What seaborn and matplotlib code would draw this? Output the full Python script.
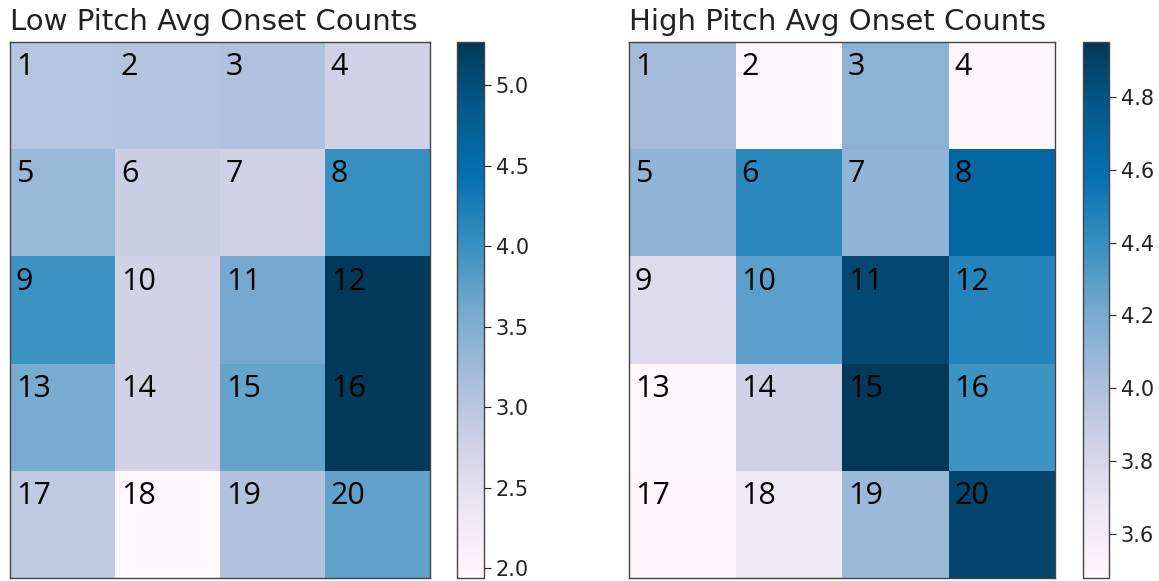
import numpy as np
import pandas as pd
import seaborn as sns
import matplotlib.pyplot as plt

# Average onset counts per cell (5 rows x 4 columns, cells numbered 1..20)
low_pitch = [
    [3.04, 3.05, 3.10, 2.78],
    [3.30, 2.84, 2.78, 4.02],
    [3.97, 2.77, 3.60, 5.25],
    [3.57, 2.77, 3.70, 5.27],
    [2.94, 1.94, 3.07, 3.74],
]
high_pitch = [
    [4.04, 3.48, 4.13, 3.49],
    [4.11, 4.44, 4.11, 4.66],
    [3.76, 4.29, 4.86, 4.47],
    [3.48, 3.85, 4.95, 4.38],
    [3.49, 3.63, 4.07, 4.88],
]
cell_labels = np.arange(1, 21).reshape(5, 4)
titles = ["Low Pitch Avg Onset Counts", "High Pitch Avg Onset Counts"]

W, H = 1159, 581
fig = plt.figure(figsize=(W / 100, H / 100), dpi=100)

def box(x0, y0, x1, y1):
    return [x0 / W, 1 - y1 / H, (x1 - x0) / W, (y1 - y0) / H]

layout = [
    (box(10, 42, 430, 578), box(457, 42, 484, 578)),
    (box(629, 42, 1055, 578), box(1083, 42, 1109, 578)),
]

for data, title, (hm_box, cb_box) in zip([low_pitch, high_pitch], titles, layout):
    ax = fig.add_axes(hm_box)
    cax = fig.add_axes(cb_box)
    df = pd.DataFrame(data)
    sns.heatmap(df, cmap="PuBu", ax=ax, cbar_ax=cax,
                xticklabels=False, yticklabels=False)
    # cell numbers in the top-left corner of each cell
    for i in range(5):
        for j in range(4):
            ax.text(j + 0.055, i + 0.31, str(cell_labels[i, j]),
                    ha="left", va="baseline", fontsize=22,
                    family=["Open Sans", "DejaVu Sans"], color="black")
    for s in ax.spines.values():
        s.set_visible(True)
        s.set_color("#444444")
        s.set_linewidth(1)
    ax.set_title(title, loc="left", fontsize=21, pad=8.5, color="#222222")
    cax.tick_params(labelsize=15, length=5, colors="#222222")
    cax.yaxis.set_major_locator(plt.MaxNLocator(8))
    cbar = ax.collections[0].colorbar
    cbar.outline.set_visible(True)
    cbar.outline.set_edgecolor("#444444")
    cbar.outline.set_linewidth(1)

fig.savefig("out.png", dpi=100)
